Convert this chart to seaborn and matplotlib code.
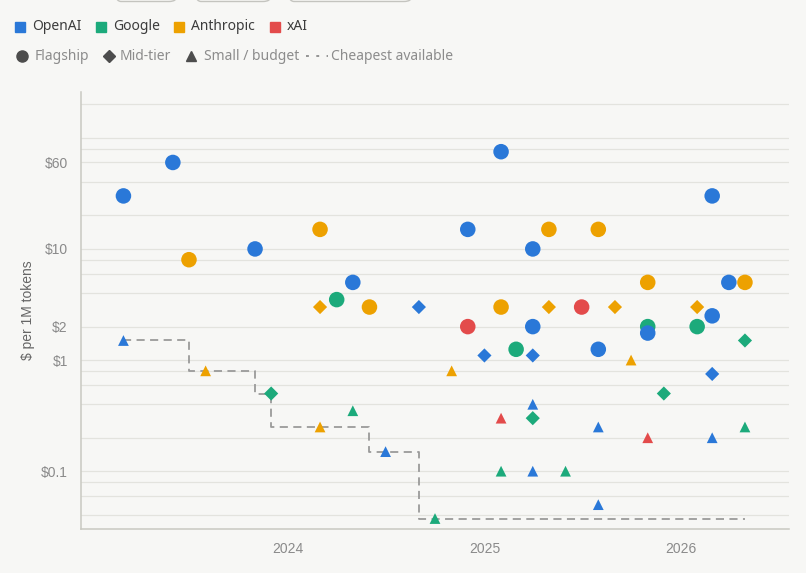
import pandas as pd
import seaborn as sns
import matplotlib.pyplot as plt
from matplotlib.lines import Line2D
from matplotlib.patches import FancyBboxPatch

# providers / tiers
providers = ['OpenAI', 'Google', 'Anthropic', 'xAI']
provider_colors = ['#2a78d8', '#1caa7b', '#eda100', '#e34b4b']
tiers = ['Flagship', 'Mid-tier', 'Small / budget']
tier_markers = ['o', 'D', '^']
tier_sizes = [125, 52, 60]

# release month, tier, input price ($ per 1M tokens)
google_dates = ['2023-12', '2024-04', '2024-05', '2024-10', '2025-02', '2025-03', '2025-04',
                '2025-06', '2025-11', '2025-12', '2026-02', '2026-05', '2026-05']
google_tiers = ['Mid-tier', 'Flagship', 'Small / budget', 'Small / budget', 'Small / budget',
                'Flagship', 'Mid-tier', 'Small / budget', 'Flagship', 'Mid-tier', 'Flagship',
                'Mid-tier', 'Small / budget']
google_prices = [0.5, 3.5, 0.35, 0.0375, 0.1, 1.25, 0.3, 0.1, 2, 0.5, 2, 1.5, 0.25]

anthropic_dates = ['2023-07', '2023-08', '2024-03', '2024-03', '2024-03', '2024-06', '2024-11',
                   '2025-02', '2025-05', '2025-05', '2025-08', '2025-09', '2025-10', '2025-11',
                   '2026-02', '2026-05']
anthropic_tiers = ['Flagship', 'Small / budget', 'Flagship', 'Mid-tier', 'Small / budget',
                   'Flagship', 'Small / budget', 'Flagship', 'Flagship', 'Mid-tier', 'Flagship',
                   'Mid-tier', 'Small / budget', 'Flagship', 'Mid-tier', 'Flagship']
anthropic_prices = [8, 0.8, 15, 3, 0.25, 3, 0.8, 3, 15, 3, 15, 3, 1, 5, 3, 5]

xai_dates = ['2024-12', '2025-02', '2025-07', '2025-11']
xai_tiers = ['Flagship', 'Small / budget', 'Flagship', 'Small / budget']
xai_prices = [2, 0.3, 3, 0.2]

openai_dates = ['2023-03', '2023-03', '2023-06', '2023-11', '2024-05', '2024-07', '2024-09',
                '2024-12', '2025-01', '2025-02', '2025-04', '2025-04', '2025-04', '2025-04',
                '2025-04', '2025-08', '2025-08', '2025-08', '2025-11', '2026-03', '2026-03',
                '2026-03', '2026-03', '2026-04']
openai_tiers = ['Flagship', 'Small / budget', 'Flagship', 'Flagship', 'Flagship', 'Small / budget',
                'Mid-tier', 'Flagship', 'Mid-tier', 'Flagship', 'Flagship', 'Flagship', 'Mid-tier',
                'Small / budget', 'Small / budget', 'Flagship', 'Small / budget', 'Small / budget',
                'Flagship', 'Flagship', 'Flagship', 'Mid-tier', 'Small / budget', 'Flagship']
openai_prices = [30, 1.5, 60, 10, 5, 0.15, 3, 15, 1.1, 75, 10, 2, 1.1, 0.4, 0.1, 1.25, 0.25, 0.05,
                 1.75, 30, 2.5, 0.75, 0.2, 5]

# cheapest available (step line)
cheap_dates = ['2023-03', '2023-07', '2023-11', '2023-12', '2024-06', '2024-09', '2026-05']
cheap_prices = [1.5, 0.8, 0.5, 0.25, 0.15, 0.0375, 0.0375]

# y axis
grid_values = [200, 100, 80, 60, 40, 20, 10, 8, 6, 4, 2, 1, 0.8, 0.6, 0.4, 0.2, 0.1, 0.08, 0.06, 0.04]
label_values = {60: '$60', 10: '$10', 2: '$2', 1: '$1', 0.1: '$0.1'}
year_ticks = ['2024-01-01', '2025-01-01', '2026-01-01']
year_labels = ['2024', '2025', '2026']

frames = []
for name, d, t, p in [('Google', google_dates, google_tiers, google_prices),
                      ('Anthropic', anthropic_dates, anthropic_tiers, anthropic_prices),
                      ('xAI', xai_dates, xai_tiers, xai_prices),
                      ('OpenAI', openai_dates, openai_tiers, openai_prices)]:
    frames.append(pd.DataFrame({'date': pd.to_datetime(d), 'tier': t, 'price': p, 'provider': name}))
df = pd.concat(frames, ignore_index=True)
cheap_df = pd.DataFrame({'date': pd.to_datetime(cheap_dates), 'price': cheap_prices})

bg = '#f7f7f5'
grid_col = '#e3e3de'
sns.set_style('white', {'axes.facecolor': bg, 'figure.facecolor': bg})
plt.rcParams['font.family'] = ['Liberation Sans', 'DejaVu Sans']

W, H = 806, 573
fig = plt.figure(figsize=(W / 100, H / 100), dpi=100)
ax = fig.add_axes([81 / W, 1 - 529.3 / H, (789 - 81) / W, (529.3 - 91.7) / H])

sns.lineplot(data=cheap_df, x='date', y='price', drawstyle='steps-post', color='#9a9a9a',
             linewidth=1.3, linestyle=(0, (4.5, 3)), ax=ax, zorder=2)
sns.scatterplot(data=df, x='date', y='price', hue='provider', style='tier', size='tier',
                hue_order=providers, palette=dict(zip(providers, provider_colors)),
                style_order=tiers, markers=dict(zip(tiers, tier_markers)),
                size_order=tiers, sizes=dict(zip(tiers, tier_sizes)),
                linewidth=0, legend=False, ax=ax, zorder=3)

ax.set_yscale('log')
ax.set_ylim(0.03, 260)
ax.set_xlim(pd.Timestamp('2022-12-12'), pd.Timestamp('2026-07-22'))
ax.set_yticks(grid_values)
ax.set_yticklabels([label_values.get(v, '') for v in grid_values])
ax.yaxis.set_minor_locator(plt.NullLocator())
ax.set_xticks(pd.to_datetime(year_ticks))
ax.set_xticklabels(year_labels)
ax.grid(axis='y', color=grid_col, linewidth=0.9)
ax.tick_params(axis='y', length=6.5, width=0.9, color=grid_col, pad=3, labelsize=10, labelcolor='#8a8a8a')
ax.tick_params(axis='x', length=0, pad=9, labelsize=10, labelcolor='#8a8a8a')
ax.set_xlabel('')
ax.set_ylabel('$ per 1M tokens', fontsize=10, color='#666666', labelpad=4)
for s in ['top', 'right']:
    ax.spines[s].set_visible(False)
for s in ['left', 'bottom']:
    ax.spines[s].set_color('#c9c9c2')
    ax.spines[s].set_linewidth(1.1)

# legend rows at top
def fx(px):
    return px / W

def fy(py):
    return 1 - py / H

leg_font = ['Noto Sans', 'DejaVu Sans']
row1 = [(20, 32), (101, 113), (179, 191), (275, 287)]
for (mx, tx), name, col in zip(row1, providers, provider_colors):
    fig.add_artist(Line2D([fx(mx)], [fy(27)], marker='s', markersize=7, color=col,
                          transform=fig.transFigure))
    fig.text(fx(tx), fy(27), name, fontsize=10, color='#3c3c3c', va='center', family=leg_font)

row2 = [(22, 35, 'o', 8, 'Flagship'), (109, 120, 'D', 6, 'Mid-tier'), (191, 204, '^', 7.5, 'Small / budget')]
for mx, tx, m, ms, label in row2:
    fig.add_artist(Line2D([fx(mx)], [fy(56)], marker=m, markersize=ms, color='#4d4d4d',
                          transform=fig.transFigure))
    fig.text(fx(tx), fy(56), label, fontsize=10, color='#8c8c8c', va='center', family=leg_font)
fig.add_artist(Line2D([fx(306), fx(328)], [fy(56), fy(56)], color='#8c8c8c', linewidth=1.3,
                      linestyle=(0, (1.6, 4.1)), transform=fig.transFigure))
fig.text(fx(331), fy(56), 'Cheapest available', fontsize=10, color='#8c8c8c', va='center', family=leg_font)

# cut-off buttons at the very top
for x0, x1 in [(113, 177), (193, 271), (286, 412)]:
    fig.add_artist(FancyBboxPatch((fx(x0), fy(1.5)), fx(x1 - x0), 30 / H,
                                  boxstyle='round,pad=0,rounding_size=0.01',
                                  facecolor='none', edgecolor='#c4c4bf', linewidth=1.0,
                                  transform=fig.transFigure))

fig.savefig('out.png', dpi=100, facecolor=bg)
